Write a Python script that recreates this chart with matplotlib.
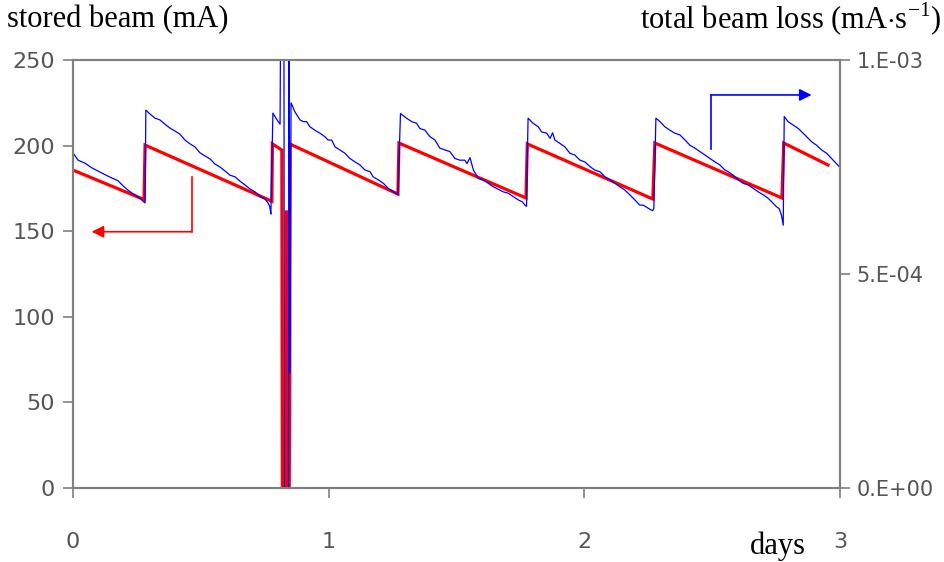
import numpy as np
import matplotlib
matplotlib.use("Agg")
import matplotlib.pyplot as plt

# ── stored beam (left axis, mA) ─────────────────────────────────────────────
red_days = [0.000, 0.278, 0.282, 0.778, 0.780, 0.817, 0.819, 0.834, 0.835, 0.837,
            0.846, 0.848, 0.849, 1.271, 1.275, 1.772, 1.777, 2.268, 2.276, 2.773,
            2.780, 2.953]
red_ma = [185.7, 168.5, 200.3, 167.5, 201.0, 197.4, 0.0, 0.0, 162.0, 0.0,
          0.0, 67.0, 200.9, 171.7, 201.5, 169.4, 201.0, 168.8, 201.5, 169.4,
          201.5, 188.7]

# ── total beam loss (right axis, in units of 1e-4 mA/s) ────────────────────
blue_days = [
    0.000, 0.020, 0.047, 0.074, 0.106, 0.129, 0.153, 0.176, 0.196, 0.215,
    0.231, 0.250, 0.266, 0.274, 0.282,
    0.285, 0.301, 0.321, 0.340, 0.360, 0.379, 0.399, 0.418, 0.438, 0.458,
    0.477, 0.497, 0.516, 0.536, 0.555, 0.575, 0.594, 0.614, 0.634, 0.653,
    0.673, 0.692, 0.712, 0.731, 0.751, 0.763, 0.770, 0.774,
    0.782, 0.794, 0.810, 0.813, 0.825, 0.827, 0.843, 0.845, 0.849,
    0.853, 0.868, 0.888, 0.901, 0.914, 0.927, 0.946, 0.966, 0.985, 0.998,
    1.012, 1.025, 1.044, 1.064, 1.083, 1.103, 1.122, 1.142, 1.162, 1.174,
    1.194, 1.214, 1.233, 1.253, 1.266, 1.271,
    1.281, 1.305, 1.325, 1.344, 1.357, 1.377, 1.396, 1.416, 1.435, 1.455,
    1.474, 1.494, 1.513, 1.533, 1.541, 1.553, 1.566, 1.585, 1.605, 1.624,
    1.644, 1.663, 1.683, 1.702, 1.722, 1.742, 1.757, 1.768, 1.774,
    1.780, 1.800, 1.820, 1.833, 1.853, 1.866, 1.876, 1.885, 1.905, 1.924,
    1.944, 1.963, 1.983, 2.002, 2.022, 2.041, 2.061, 2.081, 2.100, 2.120,
    2.139, 2.159, 2.178, 2.198, 2.217, 2.230, 2.244, 2.257, 2.267, 2.272,
    2.280, 2.296, 2.315, 2.335, 2.354, 2.374, 2.394, 2.413, 2.433, 2.452,
    2.472, 2.491, 2.511, 2.530, 2.550, 2.563, 2.582, 2.602, 2.621, 2.641,
    2.661, 2.680, 2.700, 2.719, 2.739, 2.752, 2.762, 2.771, 2.778,
    2.782, 2.797, 2.817, 2.837, 2.856, 2.869, 2.889, 2.908, 2.928, 2.948,
    2.967, 2.980, 2.997,
]
blue_loss = [
    7.83, 7.66, 7.59, 7.48, 7.38, 7.31, 7.24, 7.18, 7.06, 6.96,
    6.89, 6.82, 6.75, 6.70, 6.66,
    8.83, 8.74, 8.64, 8.60, 8.50, 8.41, 8.34, 8.27, 8.13, 8.04,
    7.97, 7.83, 7.76, 7.69, 7.57, 7.50, 7.41, 7.31, 7.27, 7.17,
    7.08, 6.99, 6.92, 6.82, 6.75, 6.66, 6.57, 6.40,
    8.76, 8.64, 8.50, 12.0, 12.0, 0.0, 0.0, 12.0, 2.69,
    9.00, 8.79, 8.60, 8.56, 8.56, 8.44, 8.36, 8.29, 8.21, 8.13,
    8.13, 7.97, 7.90, 7.82, 7.70, 7.62, 7.55, 7.43, 7.39, 7.27,
    7.20, 7.12, 7.00, 6.92, 6.87, 6.85,
    8.75, 8.64, 8.56, 8.52, 8.40, 8.36, 8.21, 8.13, 7.94, 7.90,
    7.86, 7.70, 7.66, 7.66, 7.58, 7.72, 7.43, 7.24, 7.20, 7.12,
    7.04, 6.98, 6.92, 6.89, 6.81, 6.73, 6.69, 6.61, 6.58,
    8.64, 8.52, 8.44, 8.32, 8.29, 8.17, 8.30, 8.13, 8.05, 7.97,
    7.82, 7.78, 7.66, 7.62, 7.51, 7.43, 7.39, 7.27, 7.20, 7.12,
    7.04, 6.96, 6.85, 6.73, 6.61, 6.61, 6.56, 6.51, 6.48, 6.53,
    8.64, 8.56, 8.44, 8.36, 8.29, 8.25, 8.13, 8.01, 7.94, 7.86,
    7.78, 7.70, 7.62, 7.55, 7.43, 7.39, 7.31, 7.20, 7.12, 7.08,
    7.00, 6.92, 6.85, 6.77, 6.65, 6.57, 6.53, 6.38, 6.14,
    8.68, 8.56, 8.48, 8.40, 8.29, 8.21, 8.09, 8.01, 7.90, 7.82,
    7.70, 7.62, 7.51,
]

left_ticks = [0, 50, 100, 150, 200, 250]
right_ticks = [0.0, 5e-4, 1e-3]
right_labels = ["0.E+00", "5.E-04", "1.E-03"]
x_ticks = [0, 1, 2, 3]

RED = "#FF0000"
BLUE = "#0000FF"
GRAY = "#808080"
TICK_COLOR = "#555555"

plt.rcParams["font.family"] = ["DejaVu Sans"]
plt.rcParams["mathtext.fontset"] = "custom"
plt.rcParams["mathtext.rm"] = "Liberation Serif"
serif = ["Liberation Serif", "DejaVu Serif"]

fig = plt.figure(figsize=(9.44, 5.62), dpi=100)
ax = fig.add_axes([0.0773, 0.1317, 0.8125, 0.7615])
ax2 = ax.twinx()

ax.plot(red_days, red_ma, color=RED, linewidth=2.3, solid_joinstyle="miter")
ax2.plot(blue_days, np.array(blue_loss) * 1e-4, color=BLUE, linewidth=0.9)

# annotation arrows, pointing each curve to its axis
ax.plot([0.464, 0.464], [181.7, 149.7], color=RED, linewidth=1.2)
ax.annotate("", xy=(0.073, 149.7), xytext=(0.464, 149.7),
            arrowprops=dict(arrowstyle="-|>", color=RED, lw=1.2, mutation_scale=18,
                            shrinkA=0, shrinkB=0))
ax.plot([2.495, 2.495], [197.8, 229.6], color=BLUE, linewidth=1.2)
ax.annotate("", xy=(2.889, 229.6), xytext=(2.495, 229.6),
            arrowprops=dict(arrowstyle="-|>", color=BLUE, lw=1.2, mutation_scale=18,
                            shrinkA=0, shrinkB=0))

ax.set_xlim(0, 3)
ax.set_ylim(0, 250)
ax2.set_ylim(0, 1e-3)
ax.set_xticks(x_ticks)
ax.set_yticks(left_ticks)
ax2.set_yticks(right_ticks)
ax2.set_yticklabels(right_labels)

for a in (ax, ax2):
    for s in a.spines.values():
        s.set_color(GRAY)
        s.set_linewidth(1.5)
ax.tick_params(axis="y", direction="out", length=7, width=1.2, color=GRAY,
               labelcolor=TICK_COLOR, labelsize=16, pad=6)
ax.tick_params(axis="x", direction="out", length=7, width=1.2, color=GRAY,
               labelcolor=TICK_COLOR, labelsize=16, pad=25)
ax2.tick_params(axis="y", direction="out", length=7, width=1.2, color=GRAY,
                labelcolor=TICK_COLOR, labelsize=15, pad=5)

fig.text(0.007, 0.965, "stored beam (mA)", family=serif, fontsize=22,
         ha="left", va="center")
fig.text(0.997, 0.965, r"total beam loss (mA$\cdot$s$^{-1}$)", family=serif,
         fontsize=22, ha="right", va="center")
fig.text(0.824, 0.028, "days", family=serif, fontsize=22, ha="center", va="center")

fig.savefig("out.png", dpi=100)
